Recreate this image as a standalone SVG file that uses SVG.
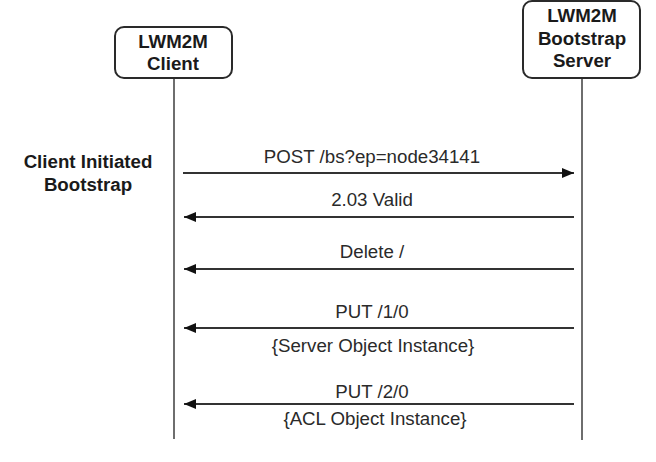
<svg xmlns="http://www.w3.org/2000/svg" width="656" height="462" viewBox="0 0 656 462">
<defs>
<style>
.box{fill:#fff;stroke:#2a2a2a;stroke-width:2}
.life{stroke:#6e6e6e;stroke-width:2;fill:none}
.msg{stroke:#333;stroke-width:2;fill:none}
.b{font-family:"Liberation Sans",Arial,sans-serif;font-weight:bold;font-size:18.7px;fill:#1a1a1a;text-anchor:middle}
.t{font-family:"Liberation Sans",Arial,sans-serif;font-size:18.7px;fill:#2a2a2a;text-anchor:middle}
</style>
<marker id="ah" viewBox="0 0 12 10" refX="12" refY="5" markerWidth="12" markerHeight="10" markerUnits="userSpaceOnUse" orient="auto">
<path d="M0,0 L12,5 L0,10 Z" fill="#111"/>
</marker>
</defs>
<rect width="656" height="462" fill="#fff"/>
<g id="lifelines">
<line class="life" x1="174" y1="78" x2="174" y2="439"/>
<line class="life" x1="582" y1="78" x2="582" y2="440"/>
</g>
<g id="client">
<rect class="box" x="115" y="27" width="117" height="51" rx="9"/>
<text class="b" x="173" y="48">LWM2M</text>
<text class="b" x="173" y="70">Client</text>
</g>
<g id="server">
<rect class="box" x="523" y="1" width="117" height="77" rx="9"/>
<text class="b" x="582" y="22">LWM2M</text>
<text class="b" x="582" y="45">Bootstrap</text>
<text class="b" x="582" y="67">Server</text>
</g>
<g id="label">
<text class="b" x="88" y="168">Client Initiated</text>
<text class="b" x="88" y="191">Bootstrap</text>
</g>
<g id="connectors">
<line class="msg" x1="183" y1="173" x2="574" y2="173" marker-end="url(#ah)"/>
<line class="msg" x1="574" y1="217" x2="184" y2="217" marker-end="url(#ah)"/>
<line class="msg" x1="574" y1="269" x2="184" y2="269" marker-end="url(#ah)"/>
<line class="msg" x1="574" y1="328" x2="184" y2="328" marker-end="url(#ah)"/>
<line class="msg" x1="574" y1="404" x2="184" y2="404" marker-end="url(#ah)"/>
</g>
<g id="messages">
<text class="t" x="372" y="163">POST /bs?ep=node34141</text>
<text class="t" x="372" y="206">2.03 Valid</text>
<text class="t" x="372" y="258">Delete /</text>
<text class="t" x="372" y="318">PUT /1/0</text>
<text class="t" x="373" y="352">{Server Object Instance}</text>
<text class="t" x="372" y="398">PUT /2/0</text>
<text class="t" x="375" y="425">{ACL Object Instance}</text>
</g>
</svg>
